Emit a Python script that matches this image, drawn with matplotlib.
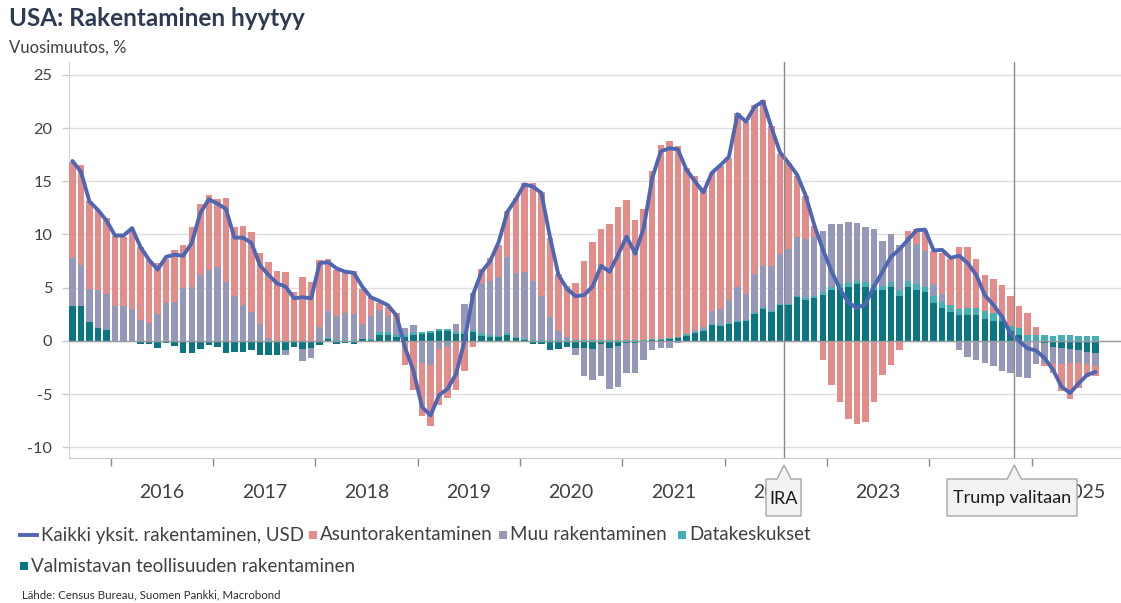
import numpy as np
import matplotlib
matplotlib.use("Agg")
import matplotlib.pyplot as plt
from matplotlib.patches import Polygon, Rectangle
from matplotlib.lines import Line2D

plt.rcParams['font.family'] = ['Lato', 'DejaVu Sans']
plt.rcParams['axes.unicode_minus'] = False

# ---------------- data (monthly, Aug 2015 - Aug 2025) ----------------
START_YEAR, START_MONTH = 2015, 8

total_line = [16.9, 15.9, 13.1, 12.3, 11.3, 9.9, 9.9, 10.6, 8.8, 7.6,
              6.7, 7.9, 8.1, 8.0, 9.2, 12.0, 13.3, 12.9, 12.4, 9.7,
              9.7, 9.2, 7.1, 6.2, 5.4, 5.1, 4.0, 4.1, 4.0, 7.3,
              7.4, 6.8, 6.5, 6.4, 5.1, 4.1, 3.75, 3.35, 2.4, -0.6,
              -2.8, -6.2, -7.0, -5.1, -4.5, -3.1, 0.05, 4.4, 6.5, 7.5,
              9.3, 12.1, 13.3, 14.7, 14.5, 13.9, 9.8, 6.2, 4.9, 4.2,
              4.3, 5.1, 7.05, 6.5, 8.1, 9.8, 8.2, 10.6, 15.3, 17.8,
              18.1, 18.0, 16.1, 15.0, 13.95, 15.8, 16.5, 17.3, 21.3, 20.6,
              22.0, 22.5, 20.0, 17.7, 16.7, 15.6, 13.65, 10.9, 8.6, 6.6,
              4.9, 3.6, 3.1, 3.45, 5.1, 6.5, 7.9, 8.6, 9.5, 10.4,
              10.45, 8.5, 8.55, 7.8, 8.0, 7.3, 6.2, 4.3, 3.4, 2.3,
              0.7, 0.0, -0.7, -0.9, -1.6, -2.7, -4.3, -4.9, -4.0, -3.2,
              -2.9]

residential = [9.0, 9.4, 8.2, 7.5, 7.1, 6.6, 6.5, 7.5, 6.8, 5.9,
               4.8, 4.1, 4.8, 4.0, 5.6, 6.7, 7.0, 6.4, 7.9, 6.5,
               7.4, 7.5, 6.7, 7.1, 6.6, 6.5, 4.6, 6.0, 5.5, 6.3,
               4.8, 4.3, 3.7, 4.0, 3.3, 1.8, 0.7, 0.9, 0.7, -2.3,
               -4.6, -5.0, -5.7, -5.25, -4.85, -4.6, -2.8, -0.6, 1.5, 2.2,
               2.95, 4.3, 7.0, 8.3, 9.2, 9.8, 7.5, 5.4, 4.85, 5.3,
               7.45, 9.15, 10.4, 10.9, 12.5, 13.1, 11.3, 12.3, 15.85, 18.2,
               18.55, 17.9, 15.55, 14.5, 13.1, 12.95, 13.4, 13.4, 16.35, 16.2,
               15.9, 15.6, 13.2, 9.4, 8.1, 5.7, 4.0, 0.95, -1.8, -4.15,
               -5.7, -7.3, -7.8, -7.6, -5.7, -3.2, -2.25, -0.85, 0.5, 1.4,
               2.05, 3.1, 3.9, 4.3, 5.8, 5.7, 4.6, 3.35, 3.2, 2.9,
               2.8, 2.0, 2.05, 0.7, -0.35, -0.95, -2.6, -3.4, -2.3, -1.15,
               -0.9]

other = [4.5, 3.8, 3.1, 3.55, 3.4, 3.3, 3.3, 3.0, 2.0, 1.7,
         2.5, 3.6, 3.7, 5.0, 5.1, 6.2, 6.7, 6.9, 5.5, 4.2,
         3.4, 2.7, 1.6, 0.3, 0.0, -0.45, 0.0, -1.1, -0.9, 1.3,
         2.6, 2.3, 2.6, 2.5, 1.4, 2.15, 2.05, 1.5, 1.3, 0.6,
         0.7, -2.1, -2.3, -0.8, -0.55, 0.75, 2.65, 3.5, 4.6, 5.05,
         5.55, 7.2, 6.0, 6.3, 5.5, 4.1, 2.1, 0.8, 0.25, -0.6,
         -2.6, -2.9, -3.0, -3.85, -3.8, -2.8, -2.8, -1.8, -0.85, -0.7,
         -0.7, -0.2, 0.0, 0.2, 0.3, 1.25, 1.5, 2.15, 3.15, 2.4,
         3.65, 3.85, 4.15, 4.7, 5.1, 5.5, 5.6, 5.6, 5.75, 5.95,
         5.7, 5.75, 5.45, 5.2, 5.2, 4.15, 4.55, 4.25, 4.2, 3.75,
         3.3, 1.1, 0.7, -0.1, -0.9, -1.55, -1.8, -2.05, -2.4, -2.8,
         -3.05, -3.35, -3.35, -2.1, -1.85, -1.55, -1.45, -1.3, -1.25, -1.2,
         -1.2]

datacenters = [0.0] * 30 + [0.05] * 6 + \
              [0.25, 0.2, 0.2, 0.2, 0.2, 0.2, 0.2, 0.2, 0.2, 0.2, 0.2, 0.2,
               0.2, 0.15, 0.15, 0.15, 0.1, 0.1] + [0.1] * 18 + \
              [0.15, 0.1, 0.1, 0.1, 0.1, 0.1, 0.1, 0.1, 0.1, 0.15, 0.15, 0.15,
               0.15, 0.15, 0.15,
               0.2, 0.2, 0.3, 0.3, 0.35, 0.3, 0.4, 0.55, 0.4, 0.4, 0.55,
               0.5, 0.55, 0.55, 0.6, 0.6, 0.65, 0.6, 0.7, 0.7, 0.75, 0.7,
               0.45, 0.5, 0.7, 0.55, 0.6, 0.55, 0.5, 0.55, 0.55, 0.5, 0.5, 0.45]

manufacturing = [3.3, 3.3, 1.8, 1.25, 1.0, -0.05, -0.1, -0.05, -0.3, -0.3,
                 -0.7, -0.15, -0.5, -1.1, -1.1, -0.8, -0.4, -0.55, -1.1, -1.0,
                 -1.0, -0.9, -1.3, -1.3, -1.3, -0.9, -0.6, -0.8, -0.7, -0.4,
                 0.2, -0.25, -0.15, -0.25, 0.15, 0.1, 0.6, 0.6, 0.4, 0.4,
                 0.6, 0.65, 0.7, 0.9, 0.9, 0.65, 0.65, 0.8, 0.5, 0.4,
                 0.35, 0.55, 0.3, 0.1, -0.3, -0.3, -0.85, -0.8, -0.6, -0.7,
                 -0.7, -0.8, -0.3, -0.7, -0.5, -0.2, -0.2, 0.0, 0.05, 0.1,
                 0.15, 0.3, 0.5, 0.7, 0.9, 1.5, 1.4, 1.55, 1.8, 1.9,
                 2.55, 3.0, 2.7, 3.35, 3.35, 4.1, 3.85, 4.0, 4.35, 4.75,
                 5.0, 5.1, 5.3, 5.1, 4.75, 4.8, 5.1, 4.2, 5.1, 4.8,
                 4.55, 3.6, 3.1, 2.75, 2.4, 2.4, 2.4, 2.1, 1.9, 1.9,
                 0.9, 0.55, -0.1, -0.1, -0.2, -0.55, -0.7, -0.8, -0.85, -1.0,
                 -1.15]

series_names = ["Kaikki yksit. rakentaminen, USD", "Asuntorakentaminen",
                "Muu rakentaminen", "Datakeskukset",
                "Valmistavan teollisuuden rakentaminen"]
year_labels = [str(y) for y in range(2016, 2026)]
event_labels = ["IRA", "Trump valitaan"]
event_positions = [2022.58, 2024.83]   # in fractional years

# ---------------- style ----------------
C_LINE = '#4F66B2'
C_RES = '#E28D89'
C_OTH = '#9598B8'
C_DC = '#45AFB4'
C_MAN = '#0B7682'
TXT = '#404040'

W, H = 1121, 603
fig = plt.figure(figsize=(W / 100, H / 100), dpi=100)
fig.patch.set_facecolor('white')

def fx(px):
    return px / W

def fy(py):
    return 1 - py / H

ax_l, ax_r, ax_t, ax_b = 69, 1121, 62, 458
ax = fig.add_axes([fx(ax_l), fy(ax_b), fx(ax_r - ax_l), (ax_b - ax_t) / H])

n = len(total_line)
month_idx = np.arange(n) + (START_MONTH - 1)
x = START_YEAR + (month_idx + 0.5) / 12.0
bw = 0.76 / 12

pos_base = np.zeros(n)
neg_base = np.zeros(n)
for vals, col in [(manufacturing, C_MAN), (datacenters, C_DC),
                  (other, C_OTH), (residential, C_RES)]:
    v = np.array(vals, dtype=float)
    p = np.where(v > 0, v, 0.0)
    q = np.where(v < 0, v, 0.0)
    ax.bar(x, p, bottom=pos_base, width=bw, color=col, linewidth=0, zorder=3)
    ax.bar(x, q, bottom=neg_base, width=bw, color=col, linewidth=0, zorder=3)
    pos_base += p
    neg_base += q

ax.plot(x, total_line, color=C_LINE, lw=2.8, zorder=5,
        solid_joinstyle='round', solid_capstyle='round')

ax.axhline(0, color='#9A9A9A', lw=1.0, zorder=4)
for ev in event_positions:
    ax.axvline(ev, color='#8A8A8A', lw=1.0, zorder=6)

ax.set_xlim(2015.592, 2025.873)
ax.set_ylim(-11.0, 26.2)

ax.set_yticks(np.arange(-10, 26, 5))
ax.set_yticklabels([str(v) for v in range(-10, 26, 5)])
ax.yaxis.grid(True, color='#DEDEDE', lw=1.0, zorder=0)
ax.set_axisbelow(True)

years = np.arange(2016, 2026)
ax.set_xticks(years)
ax.set_xticklabels([''] * len(years))
ax.set_xticks(years + 0.5, minor=True)
ax.set_xticklabels(year_labels, minor=True)
ax.tick_params(axis='x', which='major', length=6, width=1, color='#8C8C8C',
               direction='out')
ax.tick_params(axis='x', which='minor', length=0, pad=19, labelsize=14,
               labelcolor=TXT)
ax.tick_params(axis='y', length=5, width=1, color='#C8C8C8', pad=7,
               labelsize=11.8, labelcolor=TXT)

for s in ['top', 'right']:
    ax.spines[s].set_visible(False)
ax.spines['left'].set_color('#D4D4D4')
ax.spines['bottom'].set_color('#C8C8C8')

# ---------------- titles ----------------
fig.text(fx(9), fy(19), "USA: Rakentaminen hyytyy", fontsize=17.5,
         fontweight='bold', color='#2E3A52', va='center', ha='left')
fig.text(fx(9), fy(48), "Vuosimuutos, %", fontsize=12, color=TXT,
         va='center', ha='left')

# ---------------- event callout boxes ----------------
fig.canvas.draw()
def data_x_to_px(xv):
    disp = ax.transData.transform((xv, 0))
    return disp[0]

box_specs = [(event_labels[0], event_positions[0], 766, 801),
             (event_labels[1], event_positions[1], 947, 1077)]
yt, yb, ytip = 479, 516, 465
for label, ev, bl, br in box_specs:
    xc = data_x_to_px(ev)
    hw = 7
    pts_px = [(bl, yb), (br, yb), (br, yt), (xc + hw, yt), (xc, ytip),
              (xc - hw, yt), (bl, yt)]
    pts = [(fx(a), fy(b)) for a, b in pts_px]
    poly = Polygon(pts, closed=True, transform=fig.transFigure,
                   facecolor='#F3F3F3', edgecolor='#A6A6A6', lw=1.0, zorder=10)
    fig.add_artist(poly)
    fig.text(fx((bl + br) / 2), fy((yt + yb) / 2 + 1), label, fontsize=13,
             color='#1A1A1A', ha='center', va='center', zorder=11)

# ---------------- legend (flow layout) ----------------
ly1, ly2 = 535, 566
lfs = 13.5
fig.add_artist(Line2D([fx(20), fx(37)], [fy(ly1), fy(ly1)], color=C_LINE,
                      lw=2.8, transform=fig.transFigure))
fig.text(fx(41), fy(ly1), series_names[0], fontsize=lfs, color=TXT,
         va='center', ha='left')

def sq(px, py, col):
    s = 8
    fig.add_artist(Rectangle((fx(px), fy(py + s / 2)), fx(s), s / H,
                             transform=fig.transFigure, facecolor=col,
                             edgecolor='none'))

items = [(309, series_names[1], C_RES), (499, series_names[2], C_OTH),
         (678, series_names[3], C_DC)]
for px, name, col in items:
    sq(px, ly1, col)
    fig.text(fx(px + 11), fy(ly1), name, fontsize=lfs, color=TXT,
             va='center', ha='left')
sq(20, ly2, C_MAN)
fig.text(fx(31), fy(ly2), series_names[4], fontsize=lfs, color=TXT,
         va='center', ha='left')

fig.text(fx(22), fy(595), "Lähde: Census Bureau, Suomen Pankki, Macrobond",
         fontsize=8.3, color='#303030', va='center', ha='left')

fig.savefig('out.png', dpi=100, facecolor='white')
